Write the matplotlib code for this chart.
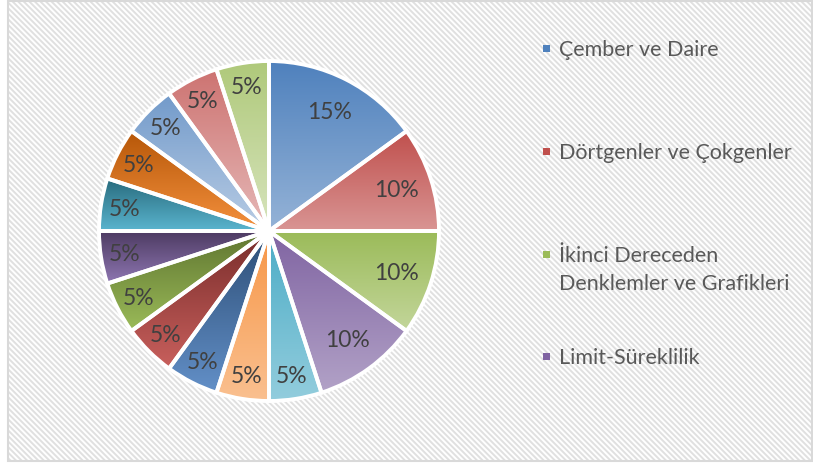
import numpy as np
import matplotlib.pyplot as plt
from matplotlib.patches import Rectangle
from matplotlib.colors import LinearSegmentedColormap

# slice shares (percent), clockwise from 12 o'clock
values = [15, 10, 10, 10, 5, 5, 5, 5, 5, 5, 5, 5, 5, 5, 5]
# only the first four entries are visible in the legend
legend_names = ['Çember ve Daire', 'Dörtgenler ve Çokgenler',
                'İkinci Dereceden\nDenklemler ve Grafikleri', 'Limit-Süreklilik']

# gradient colours per slice (top -> bottom)
top_colors = ['#4F81BD', '#C0504D', '#9BBB59', '#8064A2', '#4BACC6', '#F79646',
              '#2C4D75', '#772C2A', '#5F7530', '#4D3B62', '#276A7C', '#B65708',
              '#729ACA', '#CD7371', '#AFC97A']
bottom_colors = ['#95B3D7', '#D99594', '#C3D69B', '#B2A2C7', '#93CDDD', '#FAC090',
                 '#6390C8', '#C9605D', '#9BBB59', '#8F77B3', '#5BB5CF', '#F5913E',
                 '#B9CDE5', '#E6B9B8', '#D7E4BD']

plt.rcParams['font.family'] = ['Lato', 'DejaVu Sans']
plt.rcParams['hatch.linewidth'] = 1.4

W, H = 813, 464
fig = plt.figure(figsize=(W / 100, H / 100), dpi=100)
fig.patch.set_facecolor('white')

# striped chart background + frame
bg = Rectangle((8 / W, 2 / H), 804 / W, 460 / H, transform=fig.transFigure,
               facecolor='white', edgecolor='#e0e0e0', hatch='\\\\\\\\\\\\', lw=0, zorder=-2)
fig.patches.append(bg)
frame = Rectangle((8 / W, 2 / H), 804 / W, 460 / H, transform=fig.transFigure,
                  fill=False, edgecolor='#d9d9d9', lw=1.5, zorder=-1)
fig.patches.append(frame)

# pie: centre (269, 232) px, radius 170 px
cx, cy, r = 269, 232, 170
ax = fig.add_axes([(cx - r) / W, (H - cy - r) / H, 2 * r / W, 2 * r / H])
wedges, _ = ax.pie(values, startangle=90, counterclock=False, radius=1,
                   wedgeprops=dict(edgecolor='white', linewidth=2.8, facecolor='none'))

grad = np.linspace(0, 1, 256).reshape(-1, 1)
for i, w in enumerate(wedges):
    w.set_zorder(3)
    verts = w.get_path().vertices
    x0, y0 = verts.min(axis=0)
    x1, y1 = verts.max(axis=0)
    cmap = LinearSegmentedColormap.from_list('g%d' % i, [top_colors[i], bottom_colors[i]])
    im = ax.imshow(grad, cmap=cmap, extent=(x0, x1, y0, y1), origin='upper',
                   aspect='equal', zorder=2, interpolation='bilinear')
    im.set_clip_path(w)

    mid = np.deg2rad((w.theta1 + w.theta2) / 2)
    rl = 0.86 if values[i] < 10 else 0.79
    ax.text(rl * np.cos(mid), rl * np.sin(mid), '%d%%' % values[i],
            ha='center', va='center', fontsize=16.5, color='#404040', zorder=4)

ax.set_xlim(-1, 1)
ax.set_ylim(-1, 1)
ax.set_axis_off()

# legend (drawn by hand, Excel cut it after four entries)
legend_y = [49, 152, 255, 357]
for i, name in enumerate(legend_names):
    yc = legend_y[i]
    fig.patches.append(Rectangle((543 / W, (H - yc - 4) / H), 7 / W, 7 / H,
                                 transform=fig.transFigure, facecolor=top_colors[i],
                                 edgecolor='none', zorder=3))
    for j, line in enumerate(name.split('\n')):
        fig.text(559 / W, (H - yc - 7 - 28 * j) / H, line, fontsize=15.5,
                 color='#595959', ha='left', va='baseline')

fig.savefig('out.png', dpi=100)
